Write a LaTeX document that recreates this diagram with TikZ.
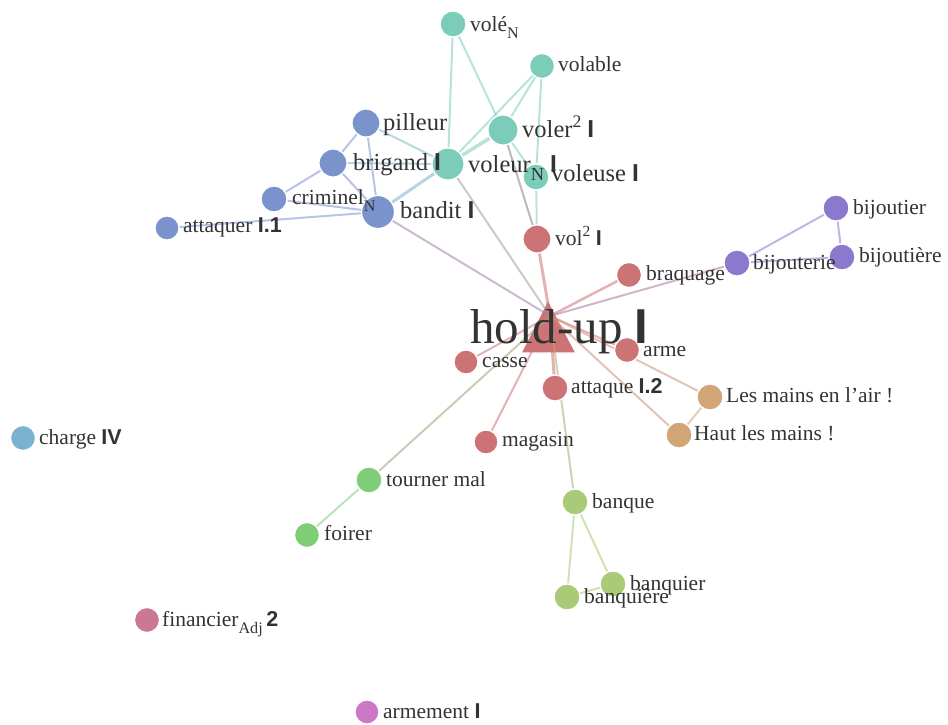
\documentclass[tikz,border=0pt]{standalone}
\usepackage{fontspec}
\setmainfont{Liberation Serif}
\setsansfont{Liberation Sans}
\pgfdeclarelayer{bg}
\pgfsetlayers{bg,main}
\definecolor{cTeal}{HTML}{7BCDBA}
\definecolor{cBlue}{HTML}{7B93CD}
\definecolor{cRed}{HTML}{CC7475}
\definecolor{cPurp}{HTML}{8B79CE}
\definecolor{cTan}{HTML}{D2A576}
\definecolor{cSky}{HTML}{7BB2CF}
\definecolor{cGreen}{HTML}{80CD78}
\definecolor{cOlive}{HTML}{A9CB78}
\definecolor{cPink}{HTML}{CB7893}
\definecolor{cMag}{HTML}{CC78C6}
\definecolor{txt}{HTML}{333333}
\newcommand\bsf[1]{{\sffamily\bfseries #1}}
\newcommand\lsub[1]{\raisebox{-0.35em}{\scalebox{0.75}{#1}}}
\newcommand\lsup[1]{\raisebox{0.38em}{\scalebox{0.72}{#1}}}
\tikzset{
  dot/.style={circle, inner sep=0pt, minimum size={2*#1}, draw=white, line width=1.2pt},
  lbl/.style={anchor=base west, inner sep=0pt, text=txt, font=\fontsize{21.5}{24}\selectfont},
  lbig/.style={lbl, font=\fontsize{24.5}{28}\selectfont},
  e/.style={line width=2pt, draw opacity=0.55},
  ew/.style={line width=3.5pt, draw opacity=0.55}
}
\begin{document}
\begin{tikzpicture}[x=1pt,y=-1pt]
\useasboundingbox (0,0) rectangle (948,724);
% circles
\node[dot=13, fill=cTeal] (vole) at (453,24) {};
\node[dot=12.5, fill=cTeal] (volable) at (542,66) {};
\node[dot=14, fill=cBlue] (pilleur) at (366,123) {};
\node[dot=15, fill=cTeal] (voler) at (503,130) {};
\node[dot=14, fill=cBlue] (brigand) at (333,163) {};
\node[dot=13, fill=cTeal] (voleuse) at (536,177) {};
\node[dot=16, fill=cTeal] (voleur) at (448,164) {};
\node[dot=13, fill=cBlue] (criminel) at (274,199) {};
\node[dot=16.5, fill=cBlue] (bandit) at (378,212) {};
\node[dot=12, fill=cBlue] (attaquer) at (167,228) {};
\node[dot=14, fill=cRed] (vol) at (537,239) {};
\node[dot=13, fill=cPurp] (bijoutier) at (836,208) {};
\node[dot=13, fill=cPurp] (bijoutiere) at (842,257) {};
\node[dot=13, fill=cPurp] (bijouterie) at (737,263) {};
\node[dot=12.5, fill=cRed] (braquage) at (629,275) {};
\node[dot=12.5, fill=cRed] (arme) at (627,350) {};
\node[dot=12, fill=cRed] (casse) at (466,362) {};
\node[dot=13, fill=cRed] (attaque) at (555,388) {};
\node[dot=13, fill=cTan] (mainsair) at (710,397) {};
\node[dot=13, fill=cTan] (haut) at (679,435) {};
\node[dot=12.5, fill=cSky] (charge) at (23,438) {};
\node[dot=12, fill=cRed] (magasin) at (486,442) {};
\node[dot=13, fill=cGreen] (tourner) at (369,480) {};
\node[dot=13, fill=cOlive] (banque) at (575,502) {};
\node[dot=12.5, fill=cGreen] (foirer) at (307,535) {};
\node[dot=13, fill=cOlive] (banquier) at (613,584) {};
\node[dot=13, fill=cOlive] (banquiere) at (567,597) {};
\node[dot=12.5, fill=cPink] (financier) at (147,620) {};
\node[dot=12, fill=cMag] (armement) at (367,712) {};
\coordinate (hu) at (550,316);
% edges and central triangle
\begin{pgfonlayer}{bg}
\path[fill=cRed, draw=white, line width=1.2pt] (548,300) -- (576,353) -- (521,353) -- cycle;
\draw[e, cTeal] (vole) -- (voleur);
\draw[e, cTeal] (vole) -- (voler);
\draw[e, cTeal] (volable) -- (voleur);
\draw[e, cTeal] (volable) -- (voler);
\draw[e, cTeal] (volable) -- (voleuse);
\draw[ew, cTeal] (voler) -- (voleur);
\draw[e, cTeal] (voler) -- (voleuse);
\draw[e, cTeal] (voleuse) -- (vol);
\draw[e, cTeal!50!cRed!80!black] (voler) -- (vol);
\draw[e, cTeal!60!cBlue] (voleur) -- (pilleur);
\draw[e, cTeal!50!cBlue] (voleur) -- (brigand);
\draw[ew, line width=3pt, cTeal!50!cBlue] (voleur) -- (bandit);
\draw[e, cBlue] (pilleur) -- (brigand);
\draw[e, cBlue] (pilleur) -- (bandit);
\draw[e, cBlue] (brigand) -- (criminel);
\draw[e, cBlue] (brigand) -- (bandit);
\draw[e, cBlue] (criminel) -- (bandit);
\draw[e, cBlue] (attaquer) -- (bandit);
\draw[e, cTeal!45!cRed] (voleur) -- (hu);
\draw[e, cBlue!45!cRed!80!cPurp] (bandit) -- (hu);
\draw[e, line width=3pt, cRed] (vol) -- (hu);
\draw[e, line width=2.5pt, cRed] (braquage) -- (hu);
\draw[e, cPurp!50!cRed] (bijouterie) -- (hu);
\draw[e, cRed] (arme) -- (hu);
\draw[e, cRed] (casse) -- (hu);
\draw[e, line width=3pt, cRed] (attaque) -- (hu);
\draw[e, cRed] (magasin) -- (hu);
\draw[e, cTan!60!cRed] (mainsair) -- (hu);
\draw[e, cTan!60!cRed] (haut) -- (hu);
\draw[e, cTan] (mainsair) -- (haut);
\draw[e, cGreen!50!cRed] (tourner) -- (hu);
\draw[e, cGreen] (tourner) -- (foirer);
\draw[e, cOlive!60!cRed] (banque) -- (hu);
\draw[e, cOlive] (banque) -- (banquier);
\draw[e, cOlive] (banque) -- (banquiere);
\draw[e, cOlive] (banquier) -- (banquiere);
\draw[e, cPurp] (bijouterie) -- (bijoutier);
\draw[e, cPurp] (bijouterie) -- (bijoutiere);
\draw[e, cPurp] (bijoutier) -- (bijoutiere);
\end{pgfonlayer}
% labels
\node[lbl] (t-vole) at (470,31) {volé\lsub{N}};
\node[lbl] (t-volable) at (558,71) {volable};
\node[lbig] (t-pilleur) at (383,130) {pilleur};
\node[lbig] (t-voler) at (522,137) {voler\lsup{2} \bsf{I}};
\node[lbig] (t-brigand) at (353,170) {brigand \bsf{I}};
\node[lbig] (t-voleuse) at (551,181) {voleuse \bsf{I}};
\node[lbig] (t-voleur) at (468,172) {voleur\lsub{N} \bsf{I}};
\node[lbl] (t-criminel) at (292,204) {criminel\lsub{N}};
\node[lbig] (t-bandit) at (400,218) {bandit \bsf{I}};
\node[lbl] (t-attaquer) at (183,232) {attaquer \bsf{I.1}};
\node[lbl] (t-vol) at (555,245) {vol\lsup{2} \bsf{I}};
\node[lbl] (t-bijoutier) at (853,214) {bijoutier};
\node[lbl] (t-bijoutiere) at (859,262) {bijoutière};
\node[lbl] (t-bijouterie) at (753,269) {bijouterie};
\node[lbl] (t-braquage) at (646,280) {braquage};
\node[lbl] (t-arme) at (643,356) {arme};
\node[lbl] (t-casse) at (482,367) {casse};
\node[lbl] (t-attaque) at (571,393) {attaque \bsf{I.2}};
\node[lbl] (t-mainsair) at (726,402) {Les mains en l’air !};
\node[lbl] (t-haut) at (694,440) {Haut les mains !};
\node[lbl] (t-charge) at (39,444) {charge \bsf{IV}};
\node[lbl] (t-magasin) at (502,446) {magasin};
\node[lbl] (t-tourner) at (386,486) {tourner mal};
\node[lbl] (t-banque) at (592,508) {banque};
\node[lbl] (t-foirer) at (324,540) {foirer};
\node[lbl] (t-banquier) at (630,590) {banquier};
\node[lbl] (t-banquiere) at (584,603) {banquière};
\node[lbl] (t-financier) at (162,626) {financier\lsub{Adj}\,\bsf{2}};
\node[lbl] (t-armement) at (383,718) {armement \bsf{I}};
\node[anchor=base west, inner sep=0pt, text=txt, font=\fontsize{49}{54}\selectfont] (holdup) at (470,343) {hold-up \bsf{I}};
\end{tikzpicture}
\end{document}
